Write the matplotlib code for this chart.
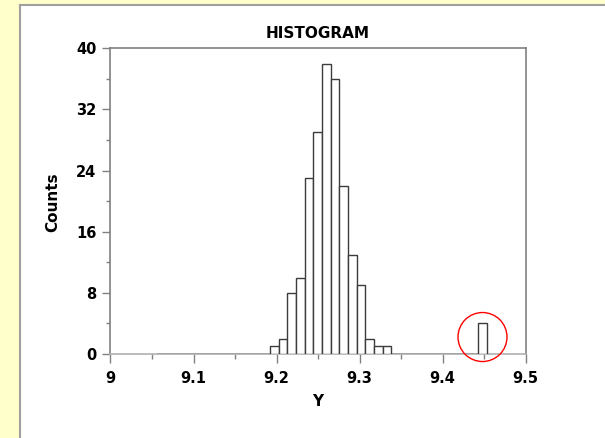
import matplotlib
matplotlib.use("Agg")
import matplotlib.pyplot as plt
import numpy as np
from matplotlib.patches import Ellipse, Rectangle
from matplotlib.lines import Line2D

# histogram data
bin_start = 9.0565
bin_width = 0.01044
counts = [0] * 13 + [1, 2, 8, 10, 23, 29, 38, 36, 22, 13, 9, 2, 1, 1] + [0] * 10 + [4]
x_ticks = [9, 9.1, 9.2, 9.3, 9.4, 9.5]
x_tick_labels = ["9", "9.1", "9.2", "9.3", "9.4", "9.5"]
y_ticks = [0, 8, 16, 24, 32, 40]

plt.rcParams['font.family'] = 'DejaVu Sans'
plt.rcParams['font.weight'] = 'bold'

fig = plt.figure(figsize=(6.05, 4.38), dpi=100)
fig.patch.set_facecolor('#ffffcc')

# white panel with grey border on left and top
fig.patches.append(Rectangle((20 / 605, 0), 1, (438 - 5) / 438, transform=fig.transFigure,
                             facecolor='white', edgecolor='none', zorder=-5))
fig.lines.append(Line2D([20 / 605, 20 / 605], [0, (438 - 5) / 438], transform=fig.transFigure,
                        color='#a0a0a0', lw=1.5, zorder=-4))
fig.lines.append(Line2D([20 / 605, 1], [(438 - 5) / 438, (438 - 5) / 438], transform=fig.transFigure,
                        color='#a0a0a0', lw=1.5, zorder=-4))

ax = fig.add_axes([0.1826, 0.1918, 0.6863, 0.6979])
ax.set_facecolor('none')

edges = bin_start + bin_width * np.arange(len(counts))
ax.bar(edges, counts, width=bin_width, align='edge', facecolor='white',
       edgecolor='#3c3c3c', linewidth=1.0, zorder=3)

ax.set_xlim(9, 9.5)
ax.set_ylim(0, 40)

ax.set_xticks(x_ticks)
ax.set_xticklabels(x_tick_labels)
ax.set_xticks(np.arange(9.05, 9.5, 0.1), minor=True)
ax.set_yticks(y_ticks)
ax.set_yticks(np.arange(4, 40, 8), minor=True)

for s in ['left', 'top', 'right']:
    ax.spines[s].set_color('#808080')
    ax.spines[s].set_linewidth(1.2)
ax.spines['bottom'].set_color('#b0b0b0')
ax.spines['bottom'].set_linewidth(1.2)

ax.tick_params(axis='both', which='major', direction='out', color='#808080', width=1.0,
               labelsize=10.5)
ax.tick_params(axis='x', which='major', length=6.5, pad=6)
ax.tick_params(axis='x', which='minor', length=3.3, width=1.0, color='#808080')
ax.tick_params(axis='y', which='major', length=6, pad=4)
ax.tick_params(axis='y', which='minor', length=2.6, width=1.0, color='#808080')

ax.set_ylabel('Counts', fontsize=11, fontweight='bold')
ax.yaxis.set_label_coords(-0.12, 0.497)
ax.set_xlabel('Y', fontsize=11, fontweight='bold')
ax.xaxis.set_label_coords(0.5, -0.132)
ax.text(0.5, 1.048, 'HISTOGRAM', transform=ax.transAxes, ha='center', va='center',
        fontsize=11, fontweight='bold')

# red circle around the outlier bin
out_i = len(counts) - 1
ax.add_patch(Ellipse((edges[out_i] + bin_width / 2, 2.22), 0.059, 6.41, facecolor='none',
                     edgecolor='red', lw=1.0, clip_on=False, zorder=4))

fig.savefig('out.png', dpi=100, facecolor=fig.get_facecolor())
